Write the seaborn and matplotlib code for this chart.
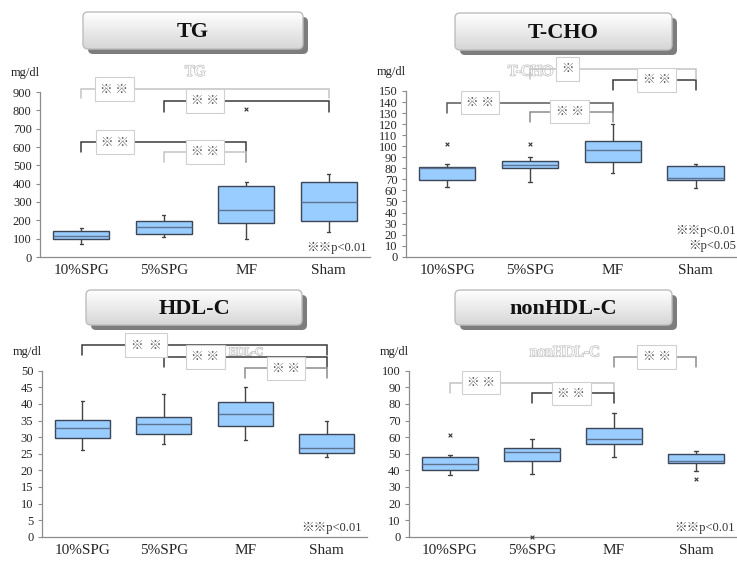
import numpy as np
import pandas as pd
import matplotlib
matplotlib.use('Agg')
import matplotlib.pyplot as plt
import matplotlib.patheffects as pe
from matplotlib.patches import FancyBboxPatch
from matplotlib.colors import LinearSegmentedColormap
import seaborn as sns

# Groups and box summaries (min, q1, median, q3, max)
groups = ['10%SPG', '5%SPG', 'MF', 'Sham']

tg_stats = [[71, 98, 114, 143, 158],
            [109, 125, 165, 199, 230],
            [98, 185, 254, 389, 411],
            [136, 197, 302, 411, 453]]
tg_outliers = [[], [], [810], []]

tcho_stats = [[63, 69, 80, 81.5, 84],
              [68, 80, 83, 87, 90],
              [76, 86, 97, 105, 120],
              [62, 69, 71, 82, 84]]
tcho_outliers = [[102], [102], [], []]

hdl_stats = [[26, 29.8, 32.6, 35.2, 41],
             [28, 31, 34, 36, 43],
             [29, 33.4, 37, 40.5, 45],
             [24, 25.3, 26.6, 30.8, 35]]
hdl_outliers = [[], [], [], []]

nonhdl_stats = [[37, 40, 44, 48, 49],
                [38, 45.5, 51, 53.5, 59],
                [48, 55.8, 58.7, 65.3, 74.7],
                [39.8, 44.2, 45.6, 49.6, 51.6]]
nonhdl_outliers = [[61], [0], [], [35]]

LIGHT = '#c4c4c4'
MID = '#8c8c8c'
DARK = '#3a3a3a'

# panel settings: title, stats, outliers, ymax, ystep, axes rect, title box (px), brackets, notes
# bracket: (i, j, y_line, y_end_left, y_end_right, color, label_x, label)
panels = [
    dict(title='TG', stats=tg_stats, out=tg_outliers, ymax=900, step=100,
         rect=[40 / 737, 304 / 561, 330 / 737, 165 / 561],
         box=(83, 12, 303, 49),
         brackets=[(0, 3, 916, 867, 867, LIGHT, 0.40, '※ ※'),
                   (1, 3, 851, 791, 791, DARK, 1.50, '※ ※'),
                   (0, 2, 627, 573, 518, DARK, 0.41, '※ ※'),
                   (1, 2, 573, 518, 518, LIGHT, 1.50, '※ ※')],
         ghost=(1.38, 1.12, 'center', 11),
         notes=[('※※p<0.01', 0.99, 0.055)]),
    dict(title='T-CHO', stats=tcho_stats, out=tcho_outliers, ymax=150, step=10,
         rect=[405.7 / 737, 304.3 / 561, 331.3 / 737, 165.7 / 561],
         box=(455, 13, 672, 50),
         brackets=[(0, 2, 139.4, 130, 130, '#595959', 0.40, '※ ※'),
                   (1, 2, 131.3, 122.2, 122.2, MID, 1.48, '※ ※'),
                   (2, 3, 160, 151, 151, DARK, 2.53, '※ ※'),
                   (1, 3, 170, 161, 161, LIGHT, 1.45, '※')],
         ghost=(1.28, 1.115, 'right', 11),
         notes=[('※※p<0.01', 0.997, 0.155), ('※p<0.05', 0.997, 0.065)]),
    dict(title='HDL-C', stats=hdl_stats, out=hdl_outliers, ymax=50, step=5,
         rect=[41.7 / 737, 24.3 / 561, 325.6 / 737, 166 / 561],
         box=(86, 290, 302, 325),
         brackets=[(0, 3, 57.7, 54.7, 54.7, DARK, 0.78, '※  ※'),
                   (1, 3, 54.2, 51.2, 51.2, DARK, 1.51, '※ ※'),
                   (2, 3, 50.7, 47.8, 47.8, MID, 2.50, '※ ※')],
         ghost=(2.01, 1.11, 'center', 8),
         notes=[('※※p<0.01', 0.984, 0.052)]),
    dict(title='nonHDL-C', stats=nonhdl_stats, out=nonhdl_outliers, ymax=100, step=10,
         rect=[409 / 737, 24.3 / 561, 328 / 737, 166 / 561],
         box=(455, 290, 672, 325),
         brackets=[(0, 2, 92.8, 86.6, 86.6, LIGHT, 0.38, '※ ※'),
                   (1, 2, 86.4, 80.5, 80.5, DARK, 1.48, '※ ※'),
                   (2, 3, 108.4, 102.4, 102.4, MID, 2.52, '※ ※')],
         ghost=(1.40, 1.108, 'center', 11),
         notes=[('※※p<0.01', 0.994, 0.052)]),
]

sns.set_style('white')
plt.rcParams['font.family'] = ['Liberation Serif', 'Noto Sans CJK JP', 'DejaVu Sans']

fig = plt.figure(figsize=(7.37, 5.61), dpi=100)

for p in panels:
    ax = fig.add_axes(p['rect'])
    df = pd.DataFrame({'group': np.repeat(groups, 5),
                       'value': np.concatenate(p['stats'])})
    sns.boxplot(data=df, x='group', y='value', order=groups, ax=ax,
                color='#99ccff', saturation=1, width=0.68, whis=(0, 100),
                fliersize=0, linecolor='#3c4656', linewidth=1.0,
                medianprops={'color': '#5d7391', 'linewidth': 1.0},
                whiskerprops={'color': '#444444'},
                capprops={'color': '#444444'}, capwidths=0.04)
    for i, vals in enumerate(p['out']):
        if vals:
            ax.scatter([i] * len(vals), vals, marker='x', s=7, color='#333333',
                       linewidths=0.8, zorder=4, clip_on=False)

    ax.set_xlim(-0.5, 3.5)
    ax.set_ylim(0, p['ymax'])
    ax.set_yticks(np.arange(0, p['ymax'] + 1, p['step']))
    ax.set_xlabel('')
    ax.set_ylabel('')
    ax.set_xticks(range(4))
    ax.set_xticklabels(groups, fontsize=11)
    ax.set_xticks([0.5, 1.5, 2.5, 3.5], minor=True)
    ax.tick_params(axis='x', which='major', length=0, pad=5)
    ax.tick_params(axis='x', which='minor', length=4, width=0.8, color='#8c8c8c', direction='out')
    ax.tick_params(axis='y', length=3, width=0.8, color='#8c8c8c', labelsize=9, pad=3, left=True)
    for s in ['top', 'right']:
        ax.spines[s].set_visible(False)
    for s in ['left', 'bottom']:
        ax.spines[s].set_color('#8c8c8c')
        ax.spines[s].set_linewidth(0.9)

    ax.text(0.0, 1.115, 'mg/dl', transform=ax.transAxes, ha='right', va='center',
            fontsize=9, color='#222222')

    gx, gy, gha, gsize = p['ghost']
    ax.text(gx, gy, p['title'], transform=ax.get_xaxis_transform(), ha=gha, va='center',
            fontsize=gsize, color='white', zorder=2,
            path_effects=[pe.withStroke(linewidth=1.2, foreground='#c8c8c8')])

    for i, j, yl, yel, yer, col, lx, lab in p['brackets']:
        ax.plot([i, i, j, j], [yel, yl, yl, yer], color=col, lw=1.1,
                clip_on=False, zorder=3, solid_joinstyle='miter')
        ax.text(lx, yl, lab, ha='center', va='center', fontsize=9, color='#555555',
                family=['Noto Sans CJK JP'], zorder=5,
                bbox=dict(boxstyle='square,pad=0.42', fc='white', ec='#d0d0d0', lw=0.8))

    for txt, nx, ny in p['notes']:
        ax.text(nx, ny, txt, transform=ax.transAxes, ha='right', va='center',
                fontsize=9, color='#333333')

# title boxes drawn in pixel units on an overlay
deco = fig.add_axes([0, 0, 1, 1])
deco.set_xlim(0, 737)
deco.set_ylim(561, 0)
deco.axis('off')
grad_cmap = LinearSegmentedColormap.from_list('g', ['#ffffff', '#d6d6d6'])
grad = np.linspace(0, 1, 64).reshape(-1, 1)
for p in panels:
    x0, y0, x1, y1 = p['box']
    w, h = x1 - x0, y1 - y0
    shadow = FancyBboxPatch((x0 + 5, y0 + 5), w, h,
                            boxstyle='round,pad=0,rounding_size=5',
                            fc='#7d7d7d', ec='none', zorder=1)
    deco.add_patch(shadow)
    frame = FancyBboxPatch((x0, y0), w, h, boxstyle='round,pad=0,rounding_size=5',
                           fc='none', ec='#bdbdbd', lw=1.0, zorder=3)
    deco.add_patch(frame)
    im = deco.imshow(grad, extent=(x0, x1, y1, y0), cmap=grad_cmap, aspect='auto',
                     origin='upper', zorder=2, interpolation='bilinear')
    im.set_clip_path(frame)
    deco.text((x0 + x1) / 2, (y0 + y1) / 2 + 1, p['title'], ha='center', va='center',
              fontsize=16, fontweight='bold', color='#111111', zorder=4)
deco.set_xlim(0, 737)
deco.set_ylim(561, 0)

fig.savefig('out.png', dpi=100)
